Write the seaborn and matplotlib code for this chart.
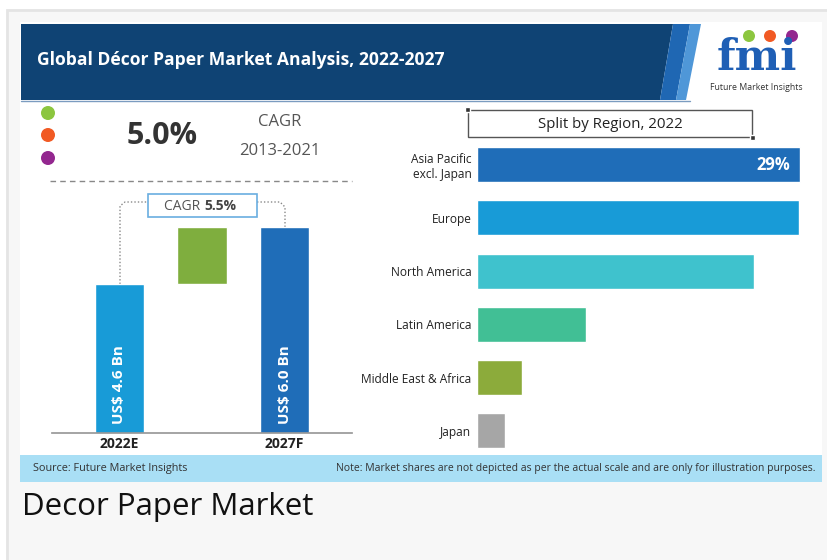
import numpy as np
import pandas as pd
import seaborn as sns
import matplotlib.pyplot as plt
from matplotlib.patches import Rectangle, Polygon, Circle

# data
years = ["2022E", "2027F"]
market_size = [4.6, 6.0]
bar_labels = ["US$ 4.6 Bn", "US$ 6.0 Bn"]
regions = ["Asia Pacific\nexcl. Japan", "Europe", "North America", "Latin America",
           "Middle East & Africa", "Japan"]
shares = [29.0, 28.9, 24.9, 9.8, 4.0, 2.5]
region_colors = ["#1f6db8", "#189bd7", "#3fc2cd", "#41bf95", "#8cab3b", "#a6a6a6"]

sns.set_theme(style="white")
plt.rcParams['font.family'] = ['Open Sans', 'DejaVu Sans']

W, H = 827, 560
fig = plt.figure(figsize=(W / 100, H / 100), dpi=100)
fig.patch.set_facecolor("white")


def box(x0, y0, x1, y1):
    # pixel box (top-left origin) -> figure fraction rect
    return [x0 / W, 1 - y1 / H, (x1 - x0) / W, (y1 - y0) / H]


bg = fig.add_axes([0, 0, 1, 1], zorder=0)
bg.set_xlim(0, W)
bg.set_ylim(H, 0)
bg.axis("off")
bg.add_patch(Rectangle((7, 10), 830, 560, facecolor="#f7f7f7", edgecolor="#e4e4e4", lw=2))
bg.add_patch(Rectangle((20, 22), 802, 460, facecolor="white", edgecolor="none"))
# header
bg.add_patch(Polygon([(21, 24), (673, 24), (660, 100), (21, 100)], facecolor="#0f4374", edgecolor="none"))
bg.add_patch(Polygon([(673, 24), (690, 24), (676, 100), (660, 100)], facecolor="#1f67b3", edgecolor="none"))
bg.add_patch(Polygon([(690, 24), (701, 24), (686, 100), (676, 100)], facecolor="#4f97d8", edgecolor="none"))
bg.plot([21, 690], [101, 101], color="#7b9cc0", lw=1)
bg.text(37, 60, "Global Décor Paper Market Analysis, 2022-2027", color="white",
        fontsize=12.6, fontweight="bold", va="center", ha="left")

# logo
for cx, c in zip([749, 770, 792], ["#8cc63f", "#f15a24", "#93278f"]):
    bg.add_patch(Circle((cx, 36), 6, facecolor=c, edgecolor="none"))
bg.text(757, 58, "fmi", color="#1f5fb5", fontsize=31, fontweight="bold", ha="center",
        va="center", family=["DejaVu Serif"])
bg.text(756, 87, "Future Market Insights", color="#333333", fontsize=6.3, ha="center", va="center")

# dots and CAGR
for cy, c in zip([113, 135, 158], ["#8cc63f", "#f15a24", "#93278f"]):
    bg.add_patch(Circle((48, cy), 7, facecolor=c, edgecolor="none"))
bg.text(162, 136, "5.0%", fontsize=22, fontweight="bold", color="#333333", ha="center", va="center")
bg.text(280, 122, "CAGR", fontsize=12, color="#555555", ha="center", va="center")
bg.text(280, 151, "2013-2021", fontsize=12, color="#555555", ha="center", va="center")
bg.plot([50, 352], [181, 181], color="#888888", lw=1, ls=(0, (4, 3)))

# CAGR 5.5% box + connectors
bg.add_patch(Rectangle((148, 194), 109, 23, facecolor="white", edgecolor="#6aaee0", lw=1.2, zorder=3))
bg.text(204, 206, "CAGR ", fontsize=10, color="#555555", ha="right", va="center", zorder=4)
bg.text(204, 206, "5.5%", fontsize=10, fontweight="bold", color="#444444", ha="left", va="center", zorder=4)
bg.plot([120, 120, 125, 148], [284, 206, 202, 202], color="#888888", lw=1, ls=(0, (1, 1.5)))
bg.plot([257, 280, 285, 285], [202, 202, 207, 227], color="#888888", lw=1, ls=(0, (1, 1.5)))

# split by region box
bg.add_patch(Rectangle((468, 110), 284, 27, facecolor="white", edgecolor="#555555", lw=1))
bg.add_patch(Rectangle((465, 107), 5, 5, facecolor="#333333"))
bg.add_patch(Rectangle((750, 135), 5, 5, facecolor="#333333"))
bg.text(610, 124, "Split by Region, 2022", fontsize=10.8, color="#222222", ha="center", va="center")

# footer
bg.add_patch(Rectangle((20, 455), 802, 27, facecolor="#a9dff5", edgecolor="none"))
bg.text(33, 468, "Source: Future Market Insights", fontsize=7.8, color="#333333", va="center")
bg.text(815, 468, "Note: Market shares are not depicted as per the actual scale and are only for illustration purposes.",
        fontsize=7.5, color="#333333", va="center", ha="right")
bg.text(22, 507, "Decor Paper Market", fontsize=22.5, color="#111111", va="center")

# left waterfall
ax1 = fig.add_axes(box(52, 190, 352, 433), zorder=2)
ax1.patch.set_alpha(0)
df1 = pd.DataFrame({"year": years, "size": market_size})
sns.barplot(data=df1, x="year", y="size", hue="year", order=["2022E", "mid", "2027F"],
            palette=["#189bd7", "#1f6db8"], width=0.594, legend=False, ax=ax1, saturation=1)
ax1.bar(1, market_size[1] - market_size[0], bottom=market_size[0], width=0.594, color="#7fae3e")
ax1.set_xlim(-0.818, 2.818)
ax1.set_ylim(0.94, 6.91)
ax1.set_xlabel("")
ax1.set_ylabel("")
ax1.set_yticks([])
ax1.set_xticks([0, 1, 2])
ax1.set_xticklabels(["2022E", "", "2027F"], fontsize=10, fontweight="bold", color="#222222")
ax1.tick_params(axis="x", length=0, pad=3)
for s in ["top", "right", "left"]:
    ax1.spines[s].set_visible(False)
ax1.spines["bottom"].set_color("#999999")
for xi, lab in zip([0, 2], bar_labels):
    ax1.text(xi, 0.035, lab, transform=ax1.get_xaxis_transform(), rotation=90, color="white",
             fontsize=11, fontweight="bold", ha="center", va="bottom")

# right bars
ax2 = fig.add_axes(box(477, 138, 822, 457.5), zorder=2)
ax2.patch.set_alpha(0)
df2 = pd.DataFrame({"region": regions, "share": shares})
sns.barplot(data=df2, y="region", x="share", hue="region", palette=region_colors, orient="h",
            width=0.66, legend=False, ax=ax2, saturation=1)
ax2.set_xlim(0, 31.0)
ax2.set_ylim(5.5, -0.5)
ax2.set_xlabel("")
ax2.set_ylabel("")
ax2.set_xticks([])
ax2.tick_params(axis="y", length=0, pad=4, labelsize=8.6, labelcolor="#222222")
for s in ax2.spines.values():
    s.set_visible(False)
ax2.text(shares[0] - 0.9, 0, f"{shares[0]:.0f}%", color="white", fontsize=12, fontweight="bold",
         ha="right", va="center")

fig.savefig("out.png", dpi=100)
